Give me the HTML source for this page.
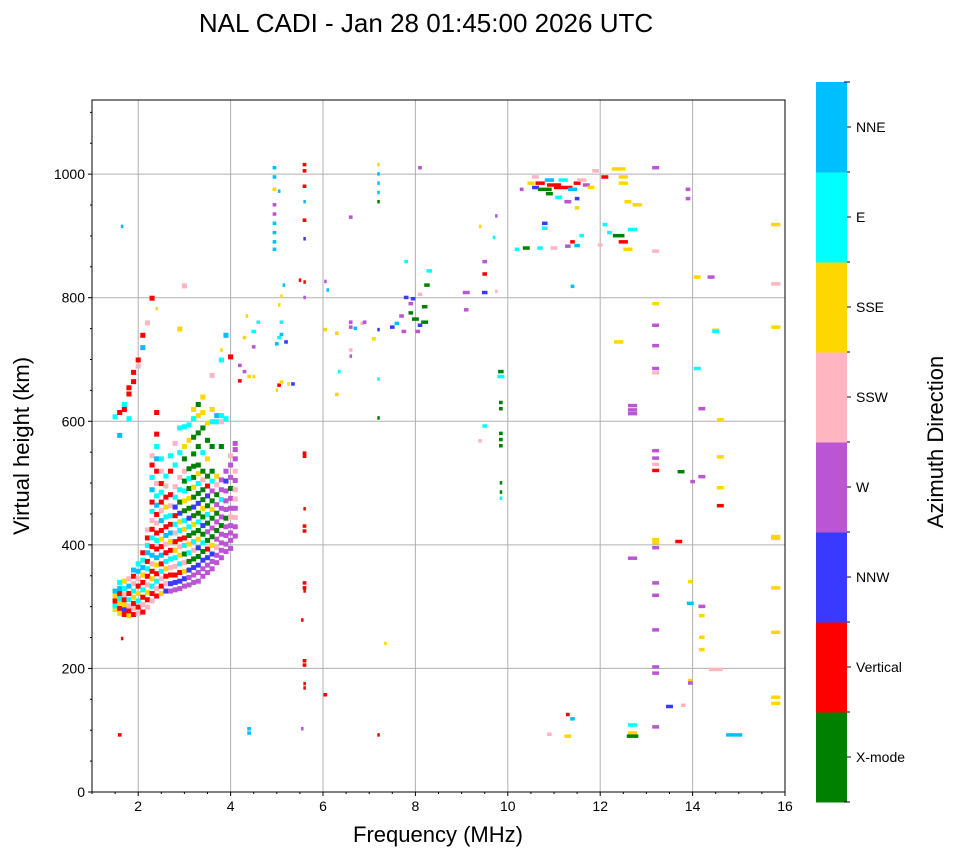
<!DOCTYPE html>
<html><head><meta charset="utf-8"><style>
body{margin:0;background:#fff;font-family:"Liberation Sans",sans-serif;}
svg text{font-family:"Liberation Sans",sans-serif;}
</style></head><body>
<svg id="chart" width="958" height="857" viewBox="0 0 958 857">
<text x="426" y="32" font-size="26" text-anchor="middle">NAL CADI - Jan 28 01:45:00 2026 UTC</text>
<g id="grid"></g>
<g id="marks"></g>
<g id="axes"></g>
<g id="cbar"></g>
</svg>
<script>
const directions=["X-mode","Vertical","NNW","W","SSW","SSE","E","NNE"];
const dirColors=["#008000","#ff0000","#3a3aff","#ba55d3","#ffb6c1","#ffd700","#00ffff","#00bfff"];
const xTicks=[2,4,6,8,10,12,14,16];
const yTicks=[0,200,400,600,800,1000];
// Dense cluster: "freq:height dir,height dir,..."
const clusterCols=[
"1.5:296 5,302 6,310 1,318 5,326 7,608 6",
"1.6:290 5,298 1,306 5,314 6,322 1,330 7,340 6,578 7,615 1",
"1.7:288 1,296 2,304 5,312 1,320 4,330 6,342 5,620 1,628 6",
"1.8:286 5,294 1,302 4,312 6,322 1,334 7,346 4,605 6,645 1,655 1",
"1.9:288 1,298 4,306 1,316 5,326 6,338 4,350 1,360 7,665 1,680 1",
"2.0:290 4,300 1,310 6,322 5,334 1,346 4,358 7,370 6,690 4,700 1",
"2.1:292 1,304 4,316 1,328 6,340 1,352 5,364 7,376 6,388 1,720 7,740 1",
"2.2:300 4,312 1,324 5,336 4,350 1,362 6,374 1,388 7,400 6,412 1,425 4,760 4",
"2.3:310 4,322 1,334 6,346 5,358 1,370 4,384 7,398 1,412 6,426 1,440 4,455 6,470 1,490 7,510 6,530 1,545 4,800 1",
"2.4:318 1,330 4,342 6,354 1,368 5,380 7,394 1,408 6,420 1,436 4,450 1,465 7,480 6,500 4,520 1,540 7,560 6,580 1,615 1",
"2.5:322 5,334 1,346 4,358 6,370 1,384 7,398 1,410 5,424 1,440 7,456 4,470 1,486 6,500 1,520 4,540 6",
"2.6:326 2,338 4,350 1,362 5,374 6,388 1,402 4,416 7,430 1,446 6,462 5,478 1,496 4,512 6",
"2.7:326 3,338 2,352 1,364 4,378 6,392 1,406 5,420 7,434 1,448 6,464 4,482 1,520 1,545 6",
"2.8:328 3,340 2,352 1,366 4,380 6,392 5,406 1,420 4,434 6,448 1,462 2,478 6,495 4,530 6,565 4",
"2.9:330 3,342 2,356 1,370 6,384 5,398 4,410 1,424 6,438 5,452 2,470 0,490 6,510 4,550 6,590 6,750 5",
"3.0:334 3,346 2,358 5,372 4,386 0,400 6,412 1,426 5,440 6,456 0,472 5,488 6,504 0,520 4,540 0,560 5,592 6,820 4",
"3.1:336 3,348 3,360 2,374 0,388 6,402 5,416 0,430 6,444 2,460 0,476 5,492 0,508 6,524 0,570 5,595 6",
"3.2:340 3,352 3,364 2,378 0,392 4,406 6,420 0,434 5,448 0,462 2,478 0,494 5,510 0,528 0,548 0,575 0,605 6,620 5",
"3.3:342 3,356 3,368 2,382 0,396 2,410 5,424 0,438 6,452 0,468 2,484 0,500 6,516 5,530 0,560 0,582 0,610 5,628 0",
"3.4:350 3,362 3,376 2,390 0,404 6,418 0,432 2,446 0,460 5,474 0,490 0,506 4,520 0,550 6,590 0,615 5,640 5",
"3.5:356 3,368 3,380 2,394 1,408 0,422 3,436 0,450 6,464 0,480 2,496 1,512 0,540 5,570 0,598 5",
"3.6:362 3,374 3,386 2,400 5,414 0,428 3,444 0,458 5,472 0,488 3,504 6,520 0,560 0,600 6,620 5,675 4",
"3.7:372 3,384 3,396 4,410 3,424 0,438 3,452 0,466 3,482 0,498 4,512 5,600 6,610 7",
"3.8:380 3,392 3,404 3,418 3,432 0,446 3,460 3,474 6,490 3,506 3,560 0,600 4,610 6,700 6",
"3.9:390 3,402 3,416 3,430 3,444 0,458 3,472 3,488 3,504 2,520 3,605 6,740 7",
"4.0:395 3,408 3,420 3,432 3,446 4,460 3,476 3,492 0,510 3,530 3,545 4,705 1",
"4.1:415 3,430 3,445 4,460 3,475 4,490 4,505 3,520 4,540 3,555 3,565 3"
];
// Scattered echoes: [freq, height, direction, widthMHz]
const scatter=[
[1.65,915,7,.05],[1.65,248,1,.05],[1.6,92,1,.08],[2.4,782,5,.05],[2.9,750,5,.05],[3.8,715,5,.05],
[4.2,690,3,.08],[4.3,735,5,.08],[4.35,770,5,.05],[4.5,745,6,.1],[4.5,720,3,.08],[4.6,760,6,.08],[4.2,665,1,.08],[4.3,680,3,.08],[4.4,672,5,.08],[4.5,672,5,.05],
[4.4,95,7,.08],[4.4,102,7,.08],
[4.95,1010,7,.08],[4.95,995,7,.08],[4.95,975,5,.08],[4.95,950,3,.08],[4.95,935,3,.08],[4.95,920,7,.08],[4.95,905,7,.08],[4.95,890,7,.08],[4.95,878,7,.08],[5.05,972,7,.05],
[5.0,725,7,.08],[5.05,735,6,.08],[5.1,740,7,.08],[5.2,728,2,.08],[5.1,760,6,.08],[5.05,788,5,.05],[5.15,820,7,.05],[5.1,802,5,.05],[5.05,658,1,.08],[5.1,663,5,.08],[5.0,650,5,.05],[5.35,660,2,.08],[5.25,660,5,.05],
[5.6,1015,1,.08],[5.6,1005,1,.08],[5.6,980,1,.08],[5.6,955,7,.05],[5.6,925,1,.08],[5.6,895,2,.05],[5.6,825,1,.05],[5.6,800,3,.05],[5.5,828,1,.05],
[5.6,548,1,.08],[5.6,543,1,.08],[5.6,458,1,.05],[5.6,430,1,.08],[5.6,422,1,.08],[5.6,338,1,.08],[5.6,330,1,.08],[5.6,325,1,.05],[5.55,278,1,.05],[5.6,212,1,.08],[5.6,205,1,.08],[5.6,175,1,.05],[5.6,168,1,.05],[5.55,102,3,.05],[6.05,157,1,.08],
[6.05,748,5,.08],[6.05,826,3,.05],[6.1,812,7,.05],[6.3,742,5,.08],[6.3,643,5,.08],[6.35,680,6,.05],[6.6,930,3,.08],[6.6,760,3,.08],[6.6,752,3,.08],[6.6,715,4,.08],[6.6,705,3,.05],[6.7,750,7,.08],[6.85,758,4,.08],[6.9,760,3,.08],[7.1,733,5,.08],[7.2,748,2,.05],
[7.2,1015,5,.05],[7.2,1000,7,.05],[7.2,985,7,.05],[7.2,970,7,.05],[7.2,955,0,.05],[7.2,668,6,.05],[7.2,605,0,.05],[7.2,92,1,.05],[7.35,240,5,.05],
[7.5,752,2,.1],[7.6,758,7,.1],[7.7,770,3,.1],[7.75,745,3,.1],[7.8,800,2,.1],[7.8,858,6,.08],[7.9,790,3,.1],[7.9,775,0,.1],[8.0,765,0,.15],[8.1,755,2,.1],[8.2,760,0,.15],[8.2,785,0,.12],[8.25,820,0,.12],[8.3,843,6,.12],[8.1,1010,3,.08],[7.95,798,2,.1],[8.1,805,4,.1],[8.05,745,3,.1],
[9.1,780,3,.1],[9.1,808,3,.15],[9.5,808,2,.12],[9.5,838,1,.1],[9.5,858,3,.1],[9.4,915,5,.05],[9.75,932,3,.05],[9.7,897,6,.05],[9.75,810,4,.05],[9.4,568,4,.08],[9.5,592,6,.1],
[9.85,680,0,.12],[9.85,672,6,.15],[9.85,630,0,.08],[9.85,620,0,.08],[9.85,580,0,.08],[9.85,570,0,.08],[9.85,560,0,.08],[9.85,500,0,.05],[9.85,485,0,.05],[9.85,475,6,.05],
[10.3,975,3,.08],[10.5,985,5,.15],[10.6,978,2,.15],[10.7,985,1,.2],[10.8,975,0,.3],[10.9,990,7,.2],[11.0,982,1,.3],[11.2,978,1,.4],[11.2,990,6,.2],[11.4,975,7,.2],[11.5,985,1,.15],[11.6,990,4,.2],[11.7,982,3,.15],[11.8,978,5,.15],[10.6,995,4,.15],[10.9,968,0,.15],[11.1,962,6,.15],[11.3,955,3,.15],[11.5,960,2,.1],[11.9,1005,4,.15],[12.1,995,1,.15],[12.4,1008,5,.3],[12.5,995,5,.2],[12.5,985,5,.2],[12.6,955,5,.15],[12.8,950,5,.2],[11.5,945,5,.1],[10.8,920,2,.12],[10.8,912,6,.12],[10.7,880,6,.12],[10.4,880,0,.15],[10.2,878,6,.1],[11.4,890,1,.1],[11.3,883,3,.12],[11.5,884,7,.12],[11.6,900,6,.1],[11.0,880,4,.15],[12.1,918,6,.1],[12.2,905,6,.1],[12.4,900,0,.25],[12.5,890,1,.2],[12.7,910,6,.2],[12.6,878,5,.2],[12.0,885,4,.1],[11.4,818,7,.08],[13.2,1010,3,.15],[13.2,875,4,.15],
[12.4,728,5,.2],[13.2,790,5,.15],[13.2,755,3,.15],[13.2,722,3,.15],[13.2,685,3,.15],[13.2,678,4,.15],[12.7,625,3,.2],[12.7,618,3,.2],[12.7,612,3,.2],[13.2,552,3,.15],[13.2,540,3,.15],[13.2,530,4,.15],[13.2,520,1,.15],[13.75,518,0,.15],[12.7,378,3,.2],[13.2,408,5,.15],[13.2,403,5,.15],[13.2,395,3,.15],[13.7,405,1,.15],[13.2,338,3,.15],[13.2,318,3,.15],[13.2,262,3,.15],[13.2,202,3,.15],[13.2,192,3,.15],[13.2,105,3,.15],[12.7,108,6,.2],[12.7,95,5,.2],[12.7,90,0,.25],[13.5,138,2,.15],[10.9,93,4,.1],[11.3,90,5,.15],[11.3,125,1,.08],[11.4,118,7,.1],
[13.9,975,3,.1],[13.9,960,3,.1],[14.1,833,5,.15],[14.4,833,3,.15],[14.5,747,5,.15],[14.5,745,6,.15],[14.1,685,6,.15],[14.2,620,3,.15],[14.6,602,5,.15],[14.6,542,5,.15],[14.6,492,5,.15],[14.6,463,1,.15],[14.2,510,3,.15],[14.0,502,3,.1],[13.95,340,5,.1],[13.95,305,7,.15],[14.2,300,3,.15],[14.2,285,5,.12],[14.2,250,5,.12],[14.2,230,5,.12],[13.95,180,5,.1],[13.95,176,3,.1],[14.5,198,4,.3],[14.9,92,7,.35],[13.8,140,4,.1],
[15.8,918,5,.2],[15.8,822,4,.2],[15.8,752,5,.2],[15.8,413,5,.2],[15.8,410,5,.2],[15.8,330,5,.2],[15.8,258,5,.2],[15.8,153,5,.2],[15.8,143,5,.2]
];
const NS="http://www.w3.org/2000/svg";
const X0=92,X1=785,Y0=792,Y1=100,FMIN=1,FMAX=16,HMAX=1120;
const xs=f=>X0+(f-FMIN)/(FMAX-FMIN)*(X1-X0);
const ys=h=>Y0-h/HMAX*(Y0-Y1);
function mk(tag,attrs,parent){const e=document.createElementNS(NS,tag);for(const k in attrs)e.setAttribute(k,attrs[k]);parent.appendChild(e);return e;}
const grid=document.getElementById('grid'),marks=document.getElementById('marks'),axes=document.getElementById('axes'),cbar=document.getElementById('cbar');
xTicks.forEach(t=>{if(t<FMAX){const l=mk('line',{x1:xs(t),x2:xs(t),y1:Y1,y2:Y0,stroke:'#b0b0b0','stroke-width':1},grid);

}});
yTicks.forEach(t=>{const l=mk('line',{x1:X0,x2:X1,y1:ys(t),y2:ys(t),stroke:'#b0b0b0','stroke-width':1},grid);

});
function addMark(f,h,d,w,hh){const r=mk('rect',{x:xs(f-w/2),y:ys(h)-2,width:Math.max(2.5,xs(f+w/2)-xs(f-w/2)),height:hh,fill:dirColors[d]},marks);

}
clusterCols.forEach(s=>{const [fs,rest]=s.split(':');const f=+fs;rest.split(',').forEach(p=>{const [h,d]=p.trim().split(' ').map(Number);addMark(f,h,d,0.11,5);});});
scatter.forEach(p=>addMark(p[0],p[1],p[2],p[3],3.5));
const frame=mk('rect',{x:X0,y:Y1,width:X1-X0,height:Y0-Y1,fill:'none',stroke:'#000','stroke-width':1},axes);


xTicks.forEach(t=>{mk('line',{x1:xs(t),x2:xs(t),y1:Y0,y2:Y0+4,stroke:'#000'},axes);
const tx=mk('text',{x:xs(t),y:Y0+19,'font-size':14,'text-anchor':'middle'},axes);tx.textContent=t;

});
for(let f=1;f<=16;f+=0.5){if(!xTicks.includes(f))mk('line',{x1:xs(f),x2:xs(f),y1:Y0,y2:Y0+2,stroke:'#000'},axes);}
yTicks.forEach(t=>{mk('line',{x1:X0-4,x2:X0,y1:ys(t),y2:ys(t),stroke:'#000'},axes);
const tx=mk('text',{x:X0-7,y:ys(t)+5,'font-size':14,'text-anchor':'end'},axes);tx.textContent=t;

});
for(let h=50;h<HMAX;h+=50){if(h%200)mk('line',{x1:X0-2,x2:X0,y1:ys(h),y2:ys(h),stroke:'#000'},axes);}
const xl=mk('text',{x:438,y:842,'font-size':22,'text-anchor':'middle'},axes);xl.textContent='Frequency (MHz)';


const yl=mk('text',{x:0,y:0,'font-size':22,'text-anchor':'middle',transform:'translate(29,446) rotate(-90)'},axes);yl.textContent='Virtual height (km)';


const CB0=82,CB1=802,CBX=816,CBW=31,bh=(CB1-CB0)/directions.length;
directions.forEach((d,i)=>{const y=CB1-(i+1)*bh;
const r=mk('rect',{x:CBX,y:y,width:CBW,height:bh+0.5,fill:dirColors[i]},cbar);


mk('line',{x1:CBX+CBW,x2:CBX+CBW+4,y1:y+bh/2,y2:y+bh/2,stroke:'#000'},cbar);
mk('line',{x1:CBX+CBW-3,x2:CBX+CBW+3,y1:y,y2:y,stroke:'#000'},cbar);
const t=mk('text',{x:CBX+CBW+9,y:y+bh/2+5,'font-size':14},cbar);t.textContent=d;

});
mk('line',{x1:CBX+CBW-3,x2:CBX+CBW+3,y1:CB1,y2:CB1,stroke:'#000'},cbar);
const cbl=mk('text',{x:0,y:0,'font-size':22,'text-anchor':'middle',transform:'translate(943,442) rotate(-90)'},cbar);cbl.textContent='Azimuth Direction';


</script>
</body></html>
